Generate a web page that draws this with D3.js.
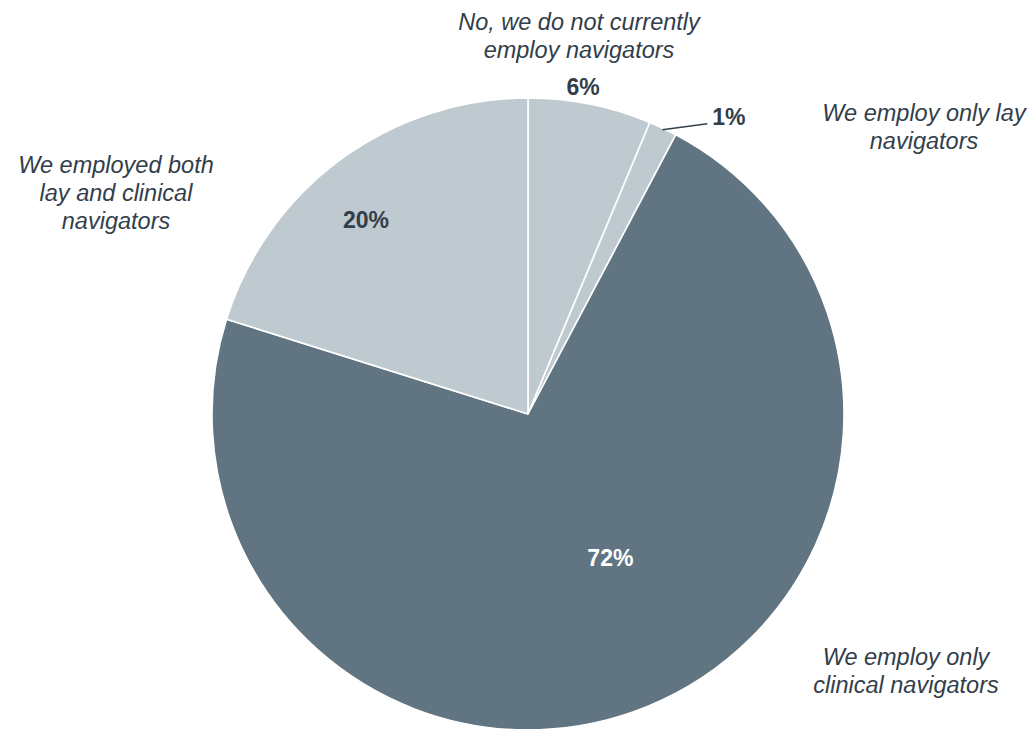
<!DOCTYPE html>
<html>
<head>
<meta charset="utf-8">
<script src="https://cdn.jsdelivr.net/npm/d3@7"></script>
<style>
  html, body { margin: 0; padding: 0; background: #ffffff; }
  svg { display: block; }
  text { font-family: "Liberation Sans", Arial, sans-serif; }
</style>
</head>
<body>
<svg id="chart" width="1030" height="729"></svg>
<script>
// Data (clockwise from 12 o'clock)
const categories = [
  "No, we do not currently employ navigators",
  "We employ only lay navigators",
  "We employ only clinical navigators",
  "We employed both lay and clinical navigators"
];
const values = [6.3, 1.45, 72.1, 20.15];
const valueLabels = ["6%", "1%", "72%", "20%"];
const categoryLines = [
  ["No, we do not currently", "employ navigators"],
  ["We employ only lay", "navigators"],
  ["We employ only", "clinical navigators"],
  ["We employed both", "lay and clinical", "navigators"]
];
const sliceColors = ["#bfc9d0", "#bfc9d0", "#607482", "#bfc9d0"];
const valueLabelColors = ["#323e4a", "#323e4a", "#ffffff", "#323e4a"];

const svg = d3.select("#chart");
const cx = 528, cy = 414, R = 316;
const textColor = "#323e4a";
const g = svg.append("g").attr("transform", `translate(${cx},${cy})`);

const pie = d3.pie().sort(null).value(d => d.v);
const arcs = pie(values.map((v, i) => ({ v, i })));
const arc = d3.arc().innerRadius(0).outerRadius(R);

g.selectAll("path.slice")
  .data(arcs)
  .join("path")
  .attr("class", "slice")
  .attr("d", arc)
  .attr("fill", d => sliceColors[d.data.i])
  .attr("stroke", "#ffffff")
  .attr("stroke-width", 1.6)
  .attr("stroke-linejoin", "round");

// label layout: radius fraction and angle shift (radians) relative to slice mid-angle
const labelRadiusFrac = [1.05, 1.0, 0.525, 0.80];
const labelAngleShift = [-0.031, 0, -0.13, -0.063];
function polar(a, r) { return [Math.sin(a) * r, -Math.cos(a) * r]; }

const lab = arcs.map((d, k) => {
  const mid = (d.startAngle + d.endAngle) / 2 + labelAngleShift[k];
  const p = polar(mid, R * labelRadiusFrac[k]);
  return { x: p[0], y: p[1] };
});

// leader line for the small slice (1%)
{
  const d = arcs[1];
  const mid = (d.startAngle + d.endAngle) / 2;
  const p0 = polar(mid, R * 0.995);
  const p1 = [p0[0] + 45, p0[1] - 6];
  g.append("path")
    .attr("d", d3.line()([p0, p1]))
    .attr("fill", "none")
    .attr("stroke", textColor)
    .attr("stroke-width", 1.5);
  lab[1] = { x: p1[0] + 5, y: p1[1] + 1, anchor: "start", baseline: true };
}

g.selectAll("text.val")
  .data(arcs)
  .join("text")
  .attr("class", "val")
  .attr("x", (d, k) => lab[k].x)
  .attr("y", (d, k) => lab[k].baseline ? lab[k].y : lab[k].y + 8)
  .attr("text-anchor", (d, k) => lab[k].anchor || "middle")
  .attr("font-size", 23)
  .attr("font-weight", "bold")
  .attr("fill", d => valueLabelColors[d.data.i])
  .text(d => valueLabels[d.data.i]);

// Category labels
const catPos = [
  { x: 579, y: 30 },
  { x: 924, y: 121 },
  { x: 906, y: 665 },
  { x: 116, y: 173 }
];
const lineH = 28;
categoryLines.forEach((lines, i) => {
  const t = svg.append("text")
    .attr("x", catPos[i].x)
    .attr("y", catPos[i].y)
    .attr("text-anchor", "middle")
    .attr("font-size", 23.5)
    .attr("font-style", "italic")
    .attr("fill", textColor);
  lines.forEach((s, j) => {
    t.append("tspan").attr("x", catPos[i].x).attr("y", catPos[i].y + j * lineH).text(s);
  });
});
</script>
</body>
</html>
